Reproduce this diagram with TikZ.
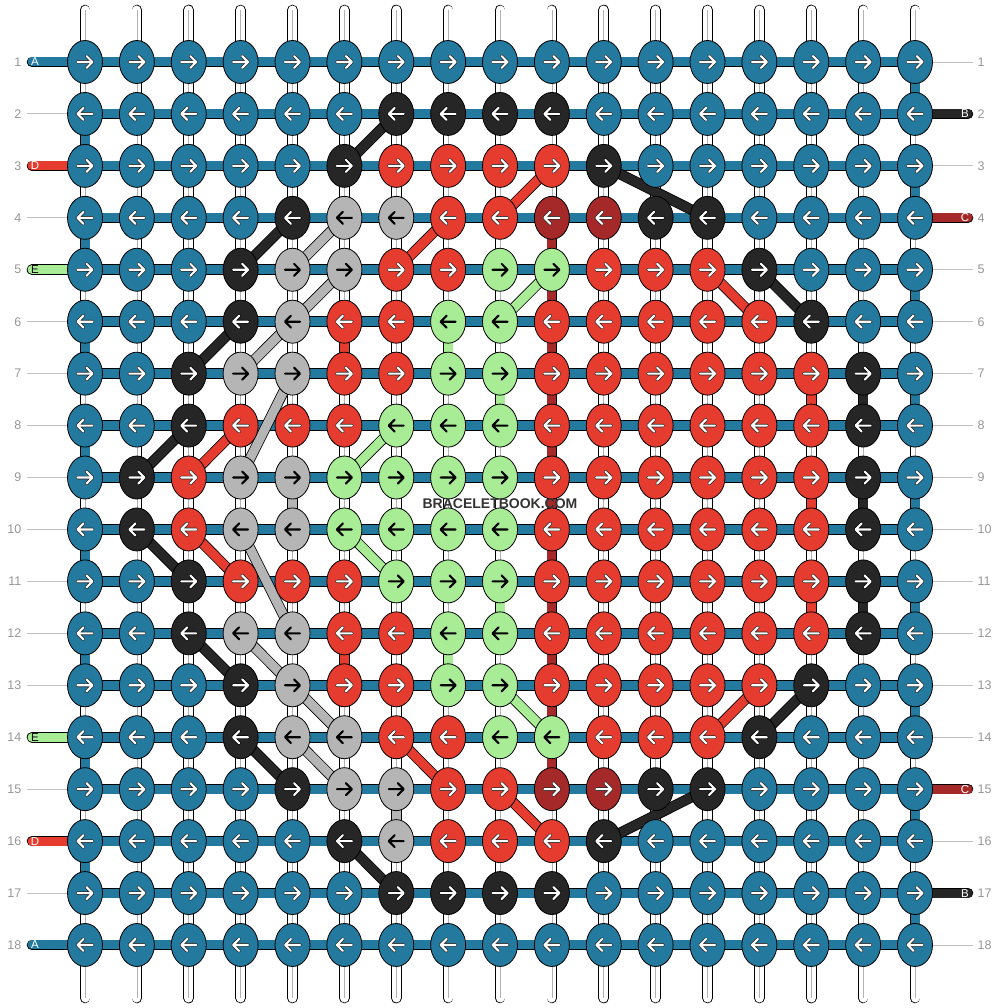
\documentclass[tikz,border=0pt]{standalone}
\usepackage{fontspec}
\setmainfont{Liberation Sans}
\usepackage{tikz}
\usetikzlibrary{shapes.geometric}

\definecolor{knotBlue}{RGB}{35,121,158}
\definecolor{knotBlack}{RGB}{38,38,38}
\definecolor{knotRed}{RGB}{229,60,47}
\definecolor{knotDark}{RGB}{166,41,41}
\definecolor{knotGrey}{RGB}{181,181,181}
\definecolor{knotGreen}{RGB}{168,236,150}
\definecolor{labelGrey}{RGB}{150,150,150}

\pgfdeclarelayer{threads}
\pgfsetlayers{threads,main}

\tikzset{
	knot/.style={ellipse, draw=black, line width=0.8pt, inner sep=0pt, minimum width=35pt, minimum height=43pt},
	kb/.style={knot, fill=knotBlue},
	kk/.style={knot, fill=knotBlack},
	kr/.style={knot, fill=knotRed},
	kd/.style={knot, fill=knotDark},
	kg/.style={knot, fill=knotGrey},
	kl/.style={knot, fill=knotGreen},
	arrowrim/.style={line width=3.5pt, line cap=round, line join=round},
	arrowink/.style={line width=2.1pt, line cap=round, line join=round},
	rim b/.style={draw=black!85}, rim k/.style={draw=black},
	rim r/.style={draw=black!85}, rim d/.style={draw=black!85},
	rim g/.style={draw=knotGrey}, rim l/.style={draw=knotGreen},
	ink b/.style={draw=white}, ink k/.style={draw=white},
	ink r/.style={draw=white}, ink d/.style={draw=white},
	ink g/.style={draw=black}, ink l/.style={draw=black},
	strand/.style={draw=black, line width=0.8pt, double=#1, double distance=9pt},
	tube/.style={strand=white, line cap=round},
	tubecore/.style={draw=black!30, line width=0.6pt},
	rownum/.style={inner sep=0pt, text=labelGrey, font=\fontsize{12.5}{12.5}\selectfont},
	rowline/.style={draw=labelGrey!60, line width=0.9pt},
	tag/.style={inner sep=0pt, font=\fontsize{11.5}{11.5}\selectfont},
}

\begin{document}
\begin{tikzpicture}[x=1pt, y=-1pt]
	\useasboundingbox (0,0) rectangle (1000,1008);

	% knots, row by row
	\foreach \r/\knots in {
		1/{b,b,b,b,b,b,b,b,b,b,b,b,b,b,b,b,b},
		2/{b,b,b,b,b,b,k,k,k,k,b,b,b,b,b,b,b},
		3/{b,b,b,b,b,k,r,r,r,r,k,b,b,b,b,b,b},
		4/{b,b,b,b,k,g,g,r,r,d,d,k,k,b,b,b,b},
		5/{b,b,b,k,g,g,r,r,l,l,r,r,r,k,b,b,b},
		6/{b,b,b,k,g,r,r,l,l,r,r,r,r,r,k,b,b},
		7/{b,b,k,g,g,r,r,l,l,r,r,r,r,r,r,k,b},
		8/{b,b,k,r,r,r,l,l,l,r,r,r,r,r,r,k,b},
		9/{b,k,r,g,g,l,l,l,l,r,r,r,r,r,r,k,b},
		10/{b,k,r,g,g,l,l,l,l,r,r,r,r,r,r,k,b},
		11/{b,b,k,r,r,r,l,l,l,r,r,r,r,r,r,k,b},
		12/{b,b,k,g,g,r,r,l,l,r,r,r,r,r,r,k,b},
		13/{b,b,b,k,g,r,r,l,l,r,r,r,r,r,k,b,b},
		14/{b,b,b,k,g,g,r,r,l,l,r,r,r,k,b,b,b},
		15/{b,b,b,b,k,g,g,r,r,d,d,k,k,b,b,b,b},
		16/{b,b,b,b,b,k,g,r,r,r,k,b,b,b,b,b,b},
		17/{b,b,b,b,b,b,k,k,k,k,b,b,b,b,b,b,b},
		18/{b,b,b,b,b,b,b,b,b,b,b,b,b,b,b,b,b}}{
		\pgfmathsetmacro{\yy}{62+(\r-1)*51.94}
		\pgfmathsetmacro{\dd}{isodd(\r) ? 1 : -1}
		\foreach \kc [count=\c] in \knots {
			\pgfmathsetmacro{\xx}{85+(\c-1)*51.875}
			\node[k\kc] (k-\r-\c) at (\xx,\yy) {};
			\draw[arrowrim, rim \kc, shift={(\xx,\yy)}, xscale=\dd] (-7.5,0) -- (7,0) (1.5,-6) -- (7.5,0) -- (1.5,6);
			\draw[arrowink, ink \kc, shift={(\xx,\yy)}, xscale=\dd] (-7.5,0) -- (7,0) (1.5,-6) -- (7.5,0) -- (1.5,6);
		}
	}

	\begin{pgfonlayer}{threads}
		% white warp strings
		\foreach \c in {1,...,17}{
			\coordinate (top-\c) at (k-1-\c.center |- 0,10);
			\coordinate (bot-\c) at (k-18-\c.center |- 0,998);
			\draw[tube] (top-\c) -- (bot-\c);
			\draw[tubecore] (top-\c) -- (bot-\c);
		}
		% rows
		\foreach \r in {1,...,18}
			\draw[strand=knotBlue] (k-\r-1.center) -- (k-\r-17.center);
		% turns at the edges
		\foreach \r [evaluate=\r as \s using int(\r+1)] in {2,4,...,16}
			\draw[strand=knotBlue] (k-\r-1.center) -- (k-\s-1.center);
		\foreach \r [evaluate=\r as \s using int(\r+1)] in {1,3,...,17}
			\draw[strand=knotBlue] (k-\r-17.center) -- (k-\s-17.center);
		% straight runs
		\foreach \r [evaluate=\r as \s using int(\r+1)] in {4,...,14}
			\draw[strand=knotDark] (k-\r-10.center) -- (k-\s-10.center);
		\foreach \c/\a/\b/\col in {6/6/7/knotRed, 6/12/13/knotRed, 15/7/8/knotRed, 15/9/10/knotRed, 15/11/12/knotRed,
			8/6/7/knotGreen, 8/12/13/knotGreen, 9/7/8/knotGreen, 9/11/12/knotGreen,
			5/9/10/knotGrey, 7/15/16/knotGrey,
			16/7/8/knotBlack, 16/9/10/knotBlack, 16/11/12/knotBlack}
			\draw[strand=\col] (k-\a-\c.center) -- (k-\b-\c.center);
		% slanted runs
		\foreach \a/\b/\col in {4-6/5-5/knotGrey, 5-6/6-5/knotGrey, 6-5/7-4/knotGrey, 7-5/9-4/knotGrey,
			10-4/12-5/knotGrey, 12-4/13-5/knotGrey, 13-5/14-6/knotGrey, 14-5/15-6/knotGrey,
			5-10/6-9/knotGreen, 8-7/9-6/knotGreen, 10-6/11-7/knotGreen, 13-9/14-10/knotGreen,
			3-10/4-9/knotRed, 4-8/5-7/knotRed, 5-13/6-14/knotRed, 8-4/9-3/knotRed,
			10-3/11-4/knotRed, 13-14/14-13/knotRed, 14-7/15-8/knotRed, 15-9/16-10/knotRed,
			2-7/3-6/knotBlack, 3-11/4-13/knotBlack, 4-5/5-4/knotBlack, 5-14/6-15/knotBlack,
			6-4/7-3/knotBlack, 8-3/9-2/knotBlack, 10-2/11-3/knotBlack, 12-3/13-4/knotBlack,
			13-15/14-14/knotBlack, 14-4/15-5/knotBlack, 15-13/16-11/knotBlack, 16-6/17-7/knotBlack}
			\draw[strand=\col] (k-\a.center) -- (k-\b.center);
		% loose ends
		\foreach \r/\col in {1/knotBlue, 3/knotRed, 5/knotGreen, 14/knotGreen, 16/knotRed, 18/knotBlue}{
			\coordinate (lb-\r) at (32,0 |- k-\r-1.center);
			\draw[strand=\col, line cap=round] (lb-\r) -- (k-\r-1.center);
		}
		\foreach \r/\col in {2/knotBlack, 4/knotDark, 15/knotDark, 17/knotBlack}{
			\coordinate (rb-\r) at (968,0 |- k-\r-17.center);
			\draw[strand=\col, line cap=round] (k-\r-17.center) -- (rb-\r);
		}
	\end{pgfonlayer}

	% row numbers and guide lines
	\foreach \r in {1,...,18}{
		\node[rownum, anchor=east] (nl-\r) at (21.5,0 |- k-\r-1.center) {\r};
		\node[rownum, anchor=west] (nr-\r) at (977.5,0 |- k-\r-17.center) {\r};
	}
	\foreach \r in {2,4,6,7,8,9,10,11,12,13,15,17}{
		\coordinate (gl-\r) at (27,0 |- k-\r-1.center);
		\draw[rowline] (gl-\r) -- (k-\r-1.west);
	}
	\foreach \r in {1,3,5,6,7,8,9,10,11,12,13,14,16,18}{
		\coordinate (gr-\r) at (973,0 |- k-\r-17.center);
		\draw[rowline] (k-\r-17.east) -- (gr-\r);
	}
	% thread letters
	\foreach \r/\t/\tc in {1/A/white, 3/D/white, 5/E/black, 14/E/black, 16/D/white, 18/A/white}
		\node[tag, text=\tc] (tl-\r) at (35,0 |- k-\r-1.center) {\t};
	\foreach \r/\t in {2/B, 4/C, 15/C, 17/B}
		\node[tag, text=white] (tr-\r) at (965,0 |- k-\r-17.center) {\t};

	\node[font=\bfseries\fontsize{14}{16}\selectfont, text=black!80] (mark) at (500,503.5) {BRACELETBOOK.COM};
\end{tikzpicture}
\end{document}
